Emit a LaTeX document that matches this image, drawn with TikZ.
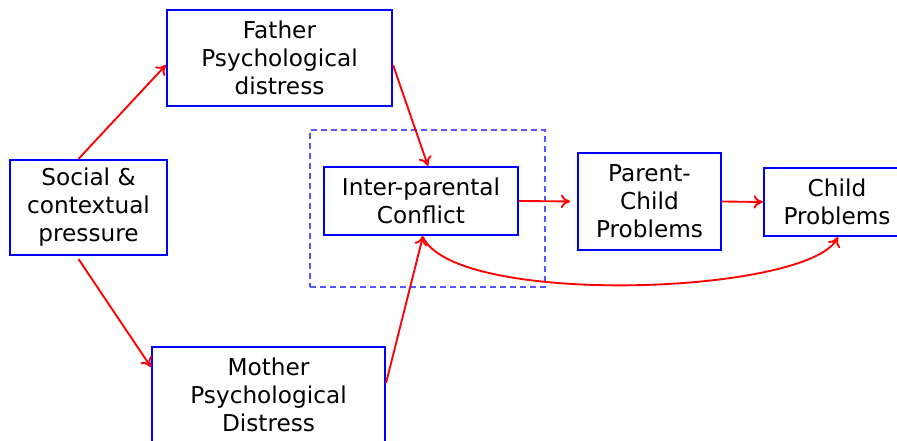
\documentclass[tikz,border=0pt]{standalone}
\usepackage{fontspec}
\setmainfont{DejaVu Sans}
\usetikzlibrary{arrows.meta,calc}
\definecolor{grpblue}{RGB}{85,85,255}
\begin{document}
\begin{tikzpicture}[x=0.75pt,y=-0.75pt,
    box/.style={draw=blue, line width=1.6pt, align=center, inner sep=0pt,
      font=\fontsize{17.4}{21}\selectfont},
    link/.style={draw=red, line width=1.4pt, -{To[length=7pt,width=10pt]}},
    group/.style={draw=grpblue, line width=0.9pt, dash pattern=on 4.5pt off 3pt}]
  \clip (0,0) rectangle (897,441);
  % boxes
  \node[box, minimum width=157*0.75pt, minimum height=95*0.75pt] (social) at (88.5,207.5) {Social \&\\contextual\\pressure};
  \node[box, minimum width=225*0.75pt, minimum height=96*0.75pt] (father) at (279.5,58) {Father\\Psychological\\distress};
  \node[box, minimum width=233*0.75pt, minimum height=96*0.75pt] (mother) at (268.5,395) {Mother\\Psychological\\Distress};
  \node[group, minimum width=235*0.75pt, minimum height=157*0.75pt] (grp) at (427.5,208.5) {};
  \node[box, minimum width=194*0.75pt, minimum height=68*0.75pt] (inter) at (421,201) {Inter-parental\\Conflict};
  \node[box, minimum width=143*0.75pt, minimum height=97*0.75pt] (pc) at (649.5,201.5) {Parent-\\Child\\Problems};
  \node[box, minimum width=146*0.75pt, minimum height=68*0.75pt] (child) at (837,202) {Child\\Problems};
  % links
  \draw[link] ($(social.north)+(-10,0)$) -- ($(father.west)+(0,7)$);
  \draw[link] ($(social.south)+(-10,3)$) -- ($(mother.west)+(0,-28)$);
  \draw[link] ($(father.east)+(0,7)$) -- ($(inter.north)+(7,0)$);
  \draw[link] ($(mother.east)+(0,-12)$) -- ($(inter.south)+(2,0)$);
  \draw[link, shorten >=5pt] (inter.east) -- (pc.west);
  \draw[link] (pc.east) -- (child.west);
  \draw[link] ($(inter.south)+(2,1)$) .. controls +(32,70) and +(-30,58) .. ($(child.south)+(1,0)$);
\end{tikzpicture}
\end{document}
